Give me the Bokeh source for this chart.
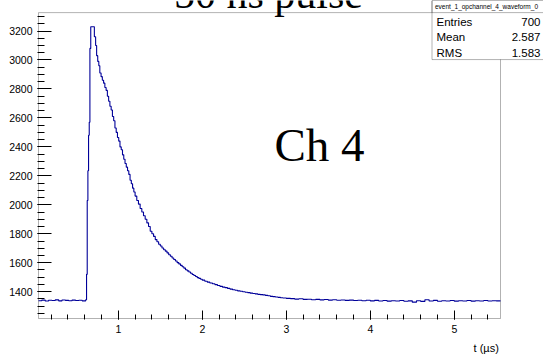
from bokeh.plotting import figure
from bokeh.models import Range1d, FixedTicker, Label, BoxAnnotation, LinearAxis
from bokeh.embed import file_html
from bokeh.resources import INLINE

# ---------------- data ----------------
title_text = "50 ns pulse"
channel_text = "Ch 4"
hist_name = "event_1_opchannel_4_waveform_0"
stats_names = ["Entries", "Mean", "RMS"]
stats_values = ["700", "2.587", "1.583"]
x_label = "t (\u00b5s)"

# left bin edges (microseconds) and ADC values of the waveform steps
t_edges = [0.05, 0.09, 0.13, 0.17, 0.21, 0.25, 0.29, 0.33, 0.37, 0.41, 0.45, 0.49, 0.53, 0.57,
           0.612, 0.622, 0.630, 0.638, 0.646, 0.654, 0.662, 0.672, 0.715, 0.730, 0.742, 0.755,
           0.768, 0.780, 0.795, 0.810, 0.825, 0.840, 0.855, 0.870, 0.885, 0.900, 0.915, 0.930,
           0.945, 0.960, 0.975, 0.990, 1.005, 1.020, 1.035, 1.050, 1.065, 1.080, 1.095, 1.110,
           1.125, 1.140, 1.155, 1.170, 1.185, 1.200, 1.220, 1.240, 1.260, 1.280, 1.300, 1.320,
           1.340, 1.360, 1.380, 1.400, 1.420, 1.440, 1.460, 1.480, 1.500, 1.520, 1.540, 1.560,
           1.580, 1.600, 1.620, 1.640, 1.660, 1.680, 1.700, 1.720, 1.740, 1.760, 1.780, 1.800,
           1.820, 1.840, 1.860, 1.880, 1.900, 1.920, 1.940, 1.960, 1.980, 2.000, 2.030, 2.060,
           2.090, 2.120, 2.150, 2.180, 2.210, 2.240, 2.270, 2.300, 2.330, 2.360, 2.390, 2.420,
           2.450, 2.480, 2.510, 2.540, 2.570, 2.600, 2.630, 2.660, 2.690, 2.720, 2.750, 2.780,
           2.810, 2.840, 2.870, 2.900, 2.930, 2.960, 3.000, 3.05, 3.10, 3.15, 3.20, 3.25, 3.30,
           3.35, 3.40, 3.45, 3.50, 3.55, 3.60, 3.65, 3.70, 3.75, 3.80, 3.85, 3.90, 3.95, 4.00,
           4.05, 4.10, 4.15, 4.20, 4.25, 4.30, 4.35, 4.40, 4.45, 4.50, 4.55, 4.60, 4.65, 4.70,
           4.75, 4.80, 4.85, 4.90, 4.95, 5.00, 5.05, 5.10, 5.15, 5.20, 5.25, 5.30, 5.35, 5.40,
           5.45, 5.50, 5.55]
adc = [1338, 1342, 1336, 1341, 1339, 1344, 1337, 1343, 1340, 1338, 1342, 1339, 1341, 1337,
       1345, 1520, 2030, 2235, 2480, 2570, 3080, 3229, 3160, 3100, 3030, 2990,
       2960, 2910, 2885, 2860, 2840, 2810, 2790, 2750, 2715, 2680, 2655, 2610,
       2580, 2530, 2500, 2465, 2440, 2400, 2380, 2345, 2315, 2285, 2260, 2235,
       2210, 2170, 2145, 2115, 2088, 2060, 2030, 2005, 1975, 1950, 1925, 1900,
       1875, 1850, 1818, 1800, 1782, 1760, 1745, 1728, 1716, 1702, 1690, 1680,
       1668, 1655, 1645, 1633, 1622, 1612, 1601, 1592, 1582, 1572, 1563, 1552,
       1544, 1536, 1528, 1519, 1512, 1505, 1497, 1492, 1486, 1480, 1472, 1466,
       1460, 1455, 1449, 1443, 1437, 1432, 1428, 1423, 1418, 1414, 1410, 1406,
       1403, 1400, 1396, 1394, 1390, 1388, 1385, 1382, 1380, 1378, 1375, 1372,
       1368, 1366, 1364, 1361, 1358, 1357, 1354, 1352, 1349, 1351, 1347, 1348, 1345,
       1347, 1344, 1346, 1342, 1345, 1341, 1343, 1340, 1342, 1339, 1341, 1338, 1341, 1337,
       1340, 1336, 1339, 1335, 1338, 1336, 1339, 1334, 1337, 1328, 1338, 1333, 1345, 1336,
       1340, 1334, 1338, 1336, 1339, 1335, 1338, 1336, 1339, 1335, 1338, 1336, 1339, 1336,
       1338, 1337]

x_ticks = [1, 2, 3, 4, 5]
x_minor = [round(0.2 * i, 1) for i in range(1, 28)]
y_ticks = [1400, 1600, 1800, 2000, 2200, 2400, 2600, 2800, 3000, 3200]
y_minor = list(range(1250, 3301, 50))

# visible histogram frame (data units)
X0, X1 = 0.05, 5.55
Y0, Y1 = 1215, 3327

# ---------------- layout (pixels) ----------------
W, H = 543, 356
VL, VR, VT, VB = 38.0, 500.0, 12.3, 323.0      # visible ROOT frame
BL, BB = 37, 324                              # bokeh frame left / bottom edge
KX = (VR - VL) / (X1 - X0)                    # px per microsecond
KY = (VB - VT) / (Y1 - Y0)                    # px per ADC count


def px2x(px):
    return X0 + (px - VL) / KX


def py2y(py):
    return Y0 + (VB - py) / KY


# bokeh frame spans from BL to the right canvas edge and from the canvas top to BB
p = figure(width=W, height=H, output_backend="svg", toolbar_location=None,
           x_range=Range1d(px2x(BL), px2x(W)), y_range=Range1d(py2y(BB), py2y(0)),
           min_border_left=BL, min_border_right=0,
           min_border_top=0, min_border_bottom=H - BB)
p.background_fill_color = "white"
p.border_fill_color = "white"
p.outline_line_color = None
p.xgrid.visible = False
p.ygrid.visible = False

# ROOT frame
p.add_layout(BoxAnnotation(left=X0, right=X1, bottom=Y0, top=Y1, fill_alpha=0.0,
                           line_color="black", line_width=1, level="underlay"))

xs = list(t_edges)
ys = list(adc) + [adc[-1]]
p.step(xs, ys, mode="after", line_color="#000099", line_width=1.1)

ax = p.xaxis[0]
ax.ticker = FixedTicker(ticks=x_ticks, minor_ticks=x_minor)
ax.major_tick_in = 9
ax.major_tick_out = 0
ax.minor_tick_in = 5
ax.minor_tick_out = 0
ax.major_label_standoff = 5
ax.major_label_text_font = "Liberation Sans"
ax.major_label_text_font_size = "10.5px"
ax.major_label_text_color = "black"
ax.axis_line_color = None

ay = p.yaxis[0]
ay.ticker = FixedTicker(ticks=y_ticks, minor_ticks=y_minor)
ay.major_tick_in = 14
ay.major_tick_out = 0
ay.minor_tick_in = 7
ay.minor_tick_out = 0
ay.major_label_standoff = 5
ay.major_label_text_font = "Liberation Sans"
ay.major_label_text_font_size = "10.5px"
ay.major_label_text_color = "black"
ay.axis_line_color = None

# x axis title as a second, tick-less axis below (right aligned to the frame)
xt_pos = 5.38
ax2 = LinearAxis(ticker=FixedTicker(ticks=[xt_pos], minor_ticks=[]),
                 major_label_overrides={xt_pos: x_label},
                 axis_line_color=None, major_tick_line_color=None,
                 minor_tick_line_color=None, major_label_standoff=0,
                 major_label_text_font="Liberation Sans",
                 major_label_text_font_size="11px", major_label_text_color="black")
p.add_layout(ax2, "below")

ALPHA_SHIFT = 0.34  # empirical shift of alphabetic baseline (fraction of font size)

# main title (partially above the canvas)
fs_title = 42
p.add_layout(Label(x=px2x(268), y=py2y(3), y_offset=(8.3 - fs_title * ALPHA_SHIFT - 3) * -1,
                   text=title_text, text_align="center",
                   text_baseline="alphabetic", text_font="Liberation Serif",
                   text_font_size=f"{fs_title}px", text_color="black"))

# channel label
fs_ch = 47
p.add_layout(Label(x=px2x(274), y=py2y(163 - fs_ch * ALPHA_SHIFT), text=channel_text,
                   text_align="left", text_baseline="alphabetic",
                   text_font="Liberation Serif", text_font_size=f"{fs_ch}px",
                   text_color="black"))

# stats box
p.add_layout(BoxAnnotation(left=px2x(431.5), bottom=py2y(60),
                           fill_color="white", fill_alpha=1.0, line_color="black",
                           line_width=1, level="overlay"))
p.add_layout(BoxAnnotation(left=px2x(431.5), bottom=py2y(VT),
                           fill_alpha=0.0, line_color="black", line_width=1, level="overlay"))
p.add_layout(Label(x=px2x(486), y=py2y(6.3), text=hist_name, text_align="center",
                   text_baseline="middle", text_font="Liberation Sans",
                   text_font_size="6.5px", text_color="black", level="overlay"))
row_y = [22, 37.5, 53]
for name, val, yy in zip(stats_names, stats_values, row_y):
    p.add_layout(Label(x=px2x(436), y=py2y(yy), text=name, text_align="left",
                       text_baseline="middle", text_font="Liberation Sans",
                       text_font_size="11.5px", text_color="black", level="overlay"))
    p.add_layout(Label(x=px2x(540), y=py2y(yy), text=val, text_align="right",
                       text_baseline="middle", text_font="Liberation Sans",
                       text_font_size="11.5px", text_color="black", level="overlay"))

open("out.html", "w").write(file_html(p, INLINE))
